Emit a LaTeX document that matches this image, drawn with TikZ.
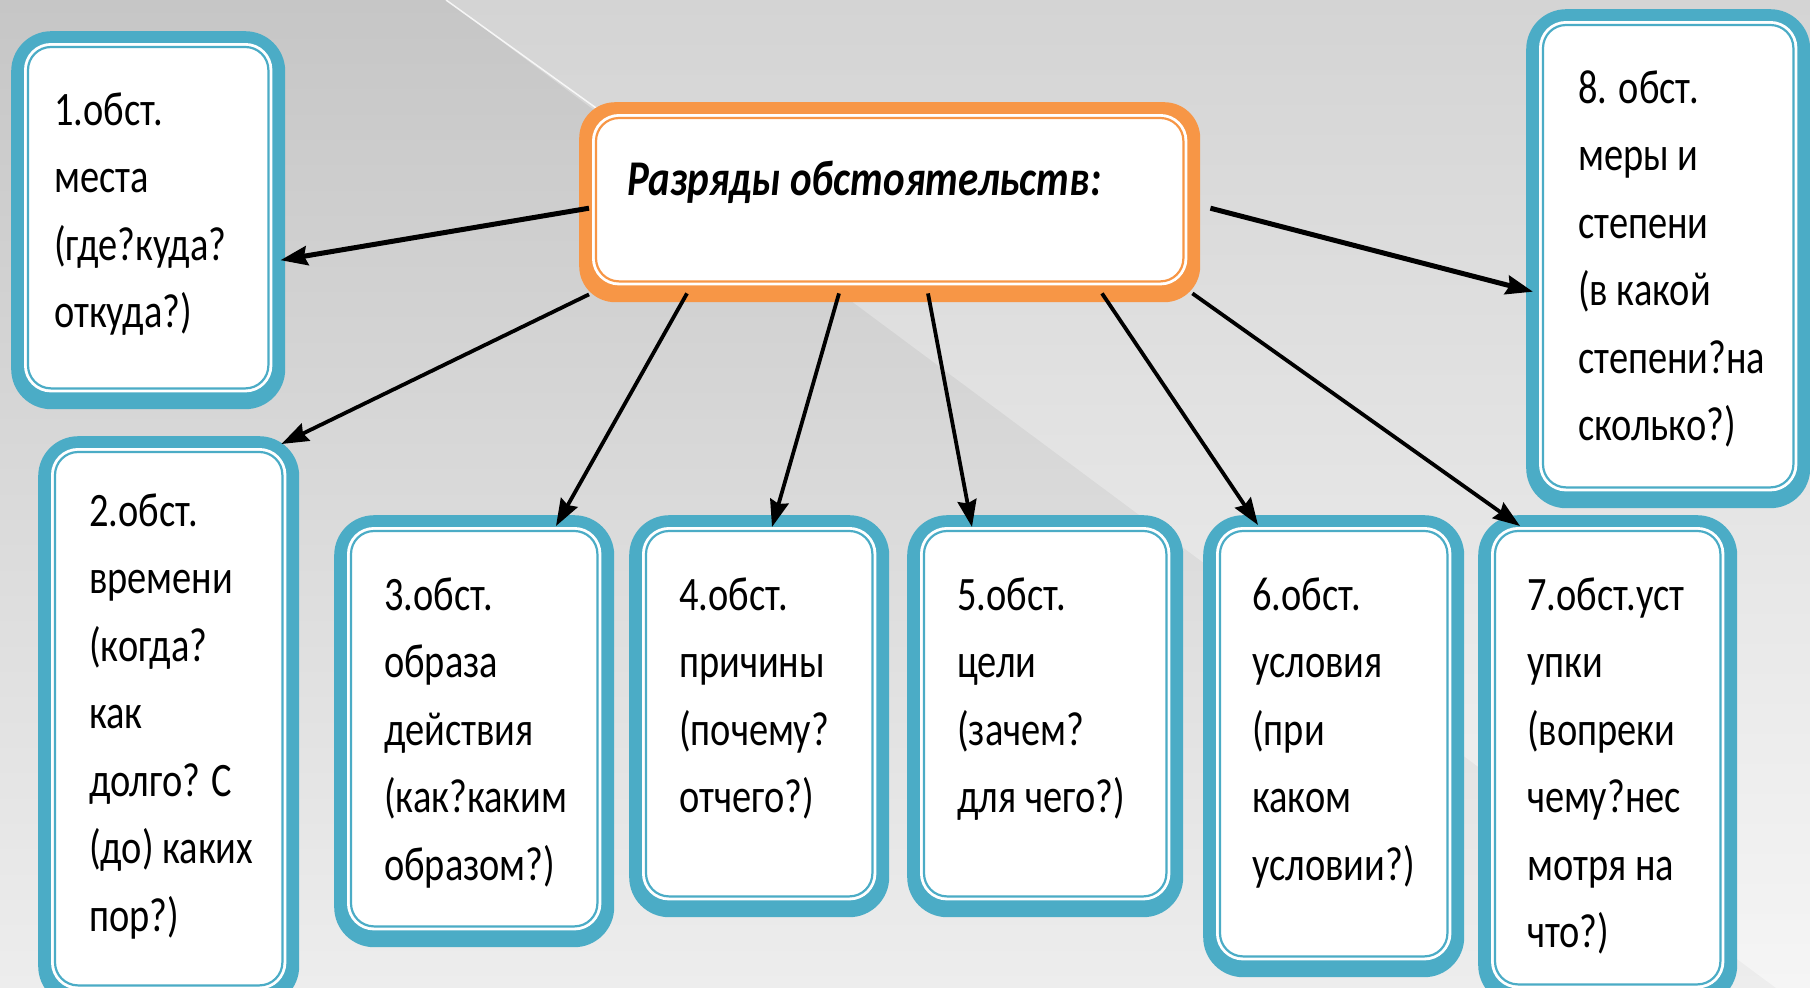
\documentclass[tikz,border=0pt]{standalone}
\usepackage{fontspec}
\setmainfont{Carlito}[FakeStretch=0.8]
\newfontfamily\titlefont{Carlito}[FakeStretch=0.82]
\usetikzlibrary{arrows.meta,calc}
\definecolor{tealc}{HTML}{4BACC6}
\definecolor{orangec}{HTML}{F79646}
\definecolor{bgTL}{HTML}{C6C6C6}
\definecolor{bgBL}{HTML}{EDEDED}
\definecolor{bgTR}{HTML}{D4D4D4}
\definecolor{bgBR}{HTML}{F5F5F5}
\newcommand\innerframe[2]{%
  \fill[white, rounded corners=27] ([shift={(13,12)}]#1.north west) rectangle ([shift={(-13,-17)}]#1.south east);
  \draw[#2, line width=2.2, rounded corners=23] ([shift={(17,16)}]#1.north west) rectangle ([shift={(-17,-21)}]#1.south east);}
\begin{document}
\begin{tikzpicture}[x=1pt,y=-1pt,
  tbox/.style={fill=tealc, rounded corners=40pt, inner sep=0pt, anchor=north west},
  obox/.style={fill=orangec, rounded corners=36pt, inner sep=0pt, anchor=north west},
  txt/.style={anchor=north west, inner sep=0pt, align=left, font=\fontsize{48}{67.5}\selectfont},
  arr/.style={-{Stealth[length=27pt,width=19pt,inset=3pt]}, line width=3.8pt, black},
  arrthick/.style={arr, line width=5pt}]
\useasboundingbox (0,0) rectangle (1810,988);
\clip (0,0) rectangle (1810,988);
% background
\shade[top color=bgTL, bottom color=bgBL] (0,0) rectangle (1810,988);
\shade[top color=bgTR, bottom color=bgBR] (446,0) -- (1810,0) -- (1810,988) -- (1776,988) -- cycle;
\draw[white, line width=1.5, opacity=0.8] (446,0) -- (610,118);
% central box
\node[obox, minimum width=621, minimum height=200] (c) at (579,102) {};
\innerframe{c}{orangec}
\node[anchor=base west, inner sep=0pt, font=\titlefont\fontsize{50}{60}\selectfont\bfseries\itshape] (ct) at (627,195) {Разряды обстоятельств:};
% boxes
\node[tbox, minimum width=274, minimum height=378] (b1) at (11,31) {};
\innerframe{b1}{tealc}
\node[tbox, minimum width=261, minimum height=570] (b2) at (38,436) {};
\innerframe{b2}{tealc}
\node[tbox, minimum width=280, minimum height=432] (b3) at (334,515) {};
\innerframe{b3}{tealc}
\node[tbox, minimum width=260, minimum height=402] (b4) at (629,515) {};
\innerframe{b4}{tealc}
\node[tbox, minimum width=276, minimum height=402] (b5) at (907,515) {};
\innerframe{b5}{tealc}
\node[tbox, minimum width=261, minimum height=462] (b6) at (1203,515) {};
\innerframe{b6}{tealc}
\node[tbox, minimum width=259, minimum height=490] (b7) at (1478,515) {};
\innerframe{b7}{tealc}
\node[tbox, minimum width=284, minimum height=499] (b8) at (1526,9) {};
\innerframe{b8}{tealc}
% texts
\node[txt] (t1) at (54,85) {\rule{0pt}{40pt}1.обст.\\места\\(где?куда?\\откуда?)};
\node[txt] (t2) at (89,486) {\rule{0pt}{40pt}2.обст.\\времени\\(когда?\\как\\долго? С\\(до) каких\\пор?)};
\node[txt] (t3) at (384,570) {\rule{0pt}{40pt}3.обст.\\образа\\действия\\(как?каким\\образом?)};
\node[txt] (t4) at (679,570) {\rule{0pt}{40pt}4.обст.\\причины\\(почему?\\отчего?)};
\node[txt] (t5) at (957,570) {\rule{0pt}{40pt}5.обст.\\цели\\(зачем?\\для чего?)};
\node[txt] (t6) at (1252,570) {\rule{0pt}{40pt}6.обст.\\условия\\(при\\каком\\условии?)};
\node[txt] (t7) at (1527,570) {\rule{0pt}{40pt}7.обст.уст\\упки\\(вопреки\\чему?нес\\мотря на\\что?)};
\node[txt] (t8) at (1578,63) {\rule{0pt}{40pt}8. обст.\\меры и\\степени\\(в какой\\степени?на\\сколько?)};
% arrows
\draw[arrthick] ([shift={(10,6)}]c.west) -- ([shift={(-5,40)}]b1.east);
\draw[arr] ([shift={(10,-8)}]c.south west) -- ([shift={(-18,8)}]b2.north east);
\draw[arr] ([shift={(108,-9)}]c.south west) -- ([shift={(222,11)}]b3.north west);
\draw[arr] ([shift={(260,-9)}]c.south west) -- ([shift={(143,12)}]b4.north west);
\draw[arr] ([shift={(349,-9)}]c.south west) -- ([shift={(65,12)}]b5.north west);
\draw[arr] ([shift={(523,-9)}]c.south west) -- ([shift={(55,10)}]b6.north west);
\draw[arr] ([shift={(-8,-9)}]c.south east) -- ([shift={(42,11)}]b7.north west);
\draw[arrthick] ([shift={(10,6)}]c.east) -- ([shift={(7,33)}]b8.west);
\end{tikzpicture}
\end{document}
